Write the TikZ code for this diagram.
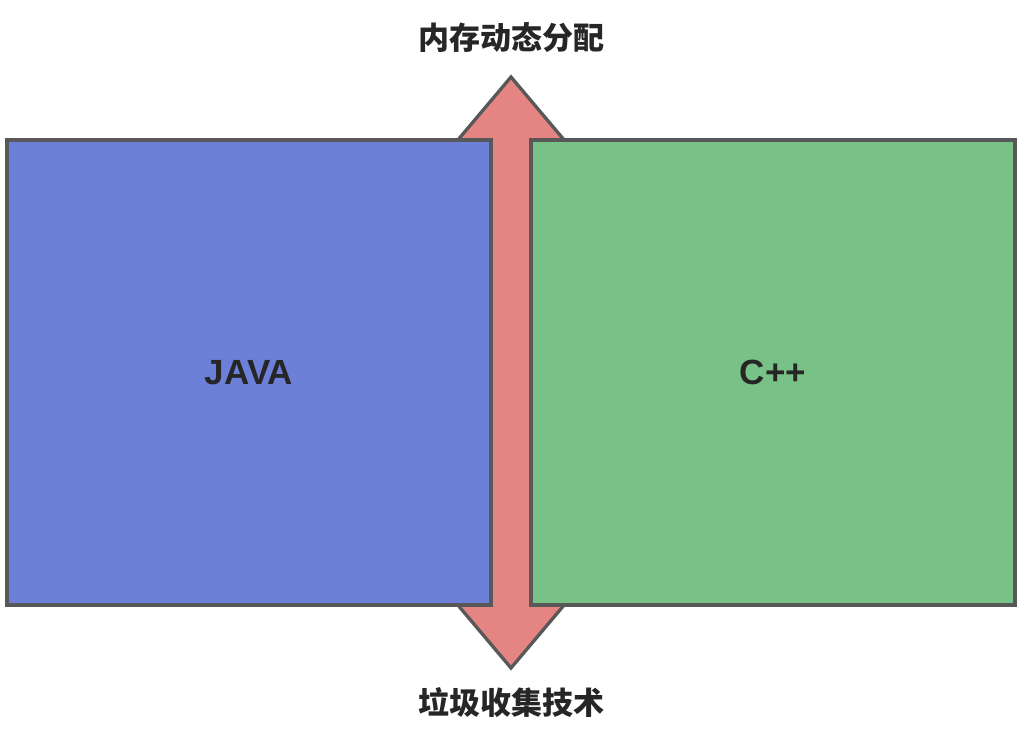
\documentclass[tikz,border=0pt]{standalone}
\usepackage{fontspec}
\setmainfont{Liberation Sans}
\newfontfamily\cjk{Noto Sans CJK SC}
\definecolor{javablue}{RGB}{109,128,217}
\definecolor{cppgreen}{RGB}{121,194,135}
\definecolor{arrowred}{RGB}{228,133,131}
\definecolor{edgegray}{RGB}{88,88,88}
\definecolor{txt}{RGB}{38,38,38}
\begin{document}
\begin{tikzpicture}[x=1pt,y=-1pt,
  panel/.style={draw=edgegray,line width=3.3pt,minimum width=484pt,minimum height=465pt,inner sep=0pt,
    font=\fontsize{35}{38}\selectfont\bfseries,text=txt},
  cjklabel/.style={font=\cjk\fontsize{31}{34}\selectfont\bfseries,text=txt,inner sep=0pt}]
\useasboundingbox (0,0) rectangle (1026,746);
\fill[white] (0,0) rectangle (1026,746);
\draw[edgegray,line width=3.3pt,fill=arrowred,line join=miter]
  (511,77) -- (565,141) -- (540,141) -- (540,604) -- (565,604) -- (511,668)
  -- (457,604) -- (482,604) -- (482,141) -- (457,141) -- cycle;
\node[panel,fill=javablue] (java) at (249,372.5) {JAVA};
\node[panel,fill=cppgreen] (cpp) at (773,372.5) {C++};
\node[cjklabel] (top) at (511,38) {内存动态分配};
\node[cjklabel] (bot) at (511,703) {垃圾收集技术};
\end{tikzpicture}
\end{document}
